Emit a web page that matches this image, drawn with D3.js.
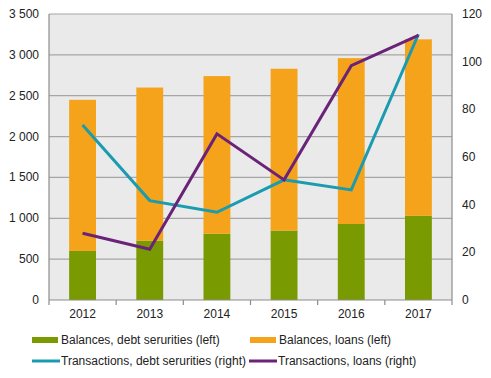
<!DOCTYPE html>
<html><head><meta charset="utf-8">
<script src="https://cdn.jsdelivr.net/npm/d3@7"></script>
<style>body{margin:0;background:#fff}svg{display:block;font-family:"Liberation Sans",Arial,sans-serif}</style>
</head><body><svg id="c" width="491" height="378"></svg>
<script>
const years = ["2012","2013","2014","2015","2016","2017"];
const balDebt = [600, 725, 810, 850, 930, 1030];
const balLoans = [1850, 1875, 1930, 1980, 2030, 2160]; // stacked on top of debt
const trDebt = [73.4, 41.7, 36.8, 50.4, 46.2, 111.5];
const trLoans = [28, 21.3, 69.7, 50.4, 98.3, 111];
const leftTicks = [0,500,1000,1500,2000,2500,3000,3500];
const rightTicks = [0,20,40,60,80,100,120];

const svg = d3.select("#c");
const L=49, R=452, T=14, B=300;
const x = d3.scaleBand().domain(years).range([L,R]).paddingInner(0.6).paddingOuter(0.3);
const xb = d3.scaleBand().domain(years).range([L,R]);
const yL = d3.scaleLinear().domain([0,3500]).range([B,T]);
const yR = d3.scaleLinear().domain([0,120]).range([B,T]);
const fmt = v => d3.format(",")(v).replace(/,/g," ");

svg.append("rect").attr("x",L).attr("y",T).attr("width",R-L).attr("height",B-T).attr("fill","#eaeaea");
svg.append("g").selectAll("line").data(leftTicks.slice(1)).join("line")
  .attr("x1",L).attr("x2",R).attr("y1",d=>yL(d)).attr("y2",d=>yL(d)).attr("stroke","#a6a6a6").attr("stroke-width",1.2);
svg.append("line").attr("x1",R).attr("x2",R).attr("y1",T).attr("y2",B).attr("stroke","#8c8c8c").attr("stroke-width",1.2);
svg.append("line").attr("x1",L).attr("x2",L).attr("y1",T).attr("y2",B).attr("stroke","#8c8c8c").attr("stroke-width",1.2);

// bars
svg.append("g").selectAll("rect").data(years).join("rect")
  .attr("x",d=>x(d)).attr("width",x.bandwidth())
  .attr("y",(d,i)=>yL(balDebt[i])).attr("height",(d,i)=>B-yL(balDebt[i])).attr("fill","#7a9a01");
svg.append("g").selectAll("rect").data(years).join("rect")
  .attr("x",d=>x(d)).attr("width",x.bandwidth())
  .attr("y",(d,i)=>yL(balDebt[i]+balLoans[i])).attr("height",(d,i)=>yL(balDebt[i])-yL(balDebt[i]+balLoans[i])).attr("fill","#f5a31a");

// lines
const cx = d => xb(d)+xb.bandwidth()/2;
const line = d3.line().x(d=>cx(d[0])).y(d=>yR(d[1]));
svg.append("path").datum(years.map((y,i)=>[y,trDebt[i]])).attr("d",line).attr("fill","none").attr("stroke","#1a9bb0").attr("stroke-width",3).attr("stroke-linejoin","miter");
svg.append("path").datum(years.map((y,i)=>[y,trLoans[i]])).attr("d",line).attr("fill","none").attr("stroke","#6b2378").attr("stroke-width",3).attr("stroke-linejoin","miter");

// x axis
svg.append("line").attr("x1",L).attr("x2",R).attr("y1",B).attr("y2",B).attr("stroke","#8c8c8c").attr("stroke-width",1.2);
svg.append("g").selectAll("line").data(years.map(y=>xb(y)).concat([R])).join("line")
  .attr("x1",d=>d).attr("x2",d=>d).attr("y1",B).attr("y2",B+5).attr("stroke","#8c8c8c").attr("stroke-width",1.2);
svg.append("g").selectAll("text").data(years).join("text")
  .attr("x",d=>cx(d)).attr("y",B+18).attr("text-anchor","middle").attr("font-size",12).attr("fill","#222").text(d=>d);

// y labels
svg.append("g").selectAll("text").data(leftTicks).join("text")
  .attr("x",39).attr("y",d=>yL(d)+4).attr("text-anchor","end").attr("font-size",12).attr("fill","#222").text(fmt);
svg.append("g").selectAll("text").data(rightTicks).join("text")
  .attr("x",462).attr("y",d=>yR(d)+4).attr("text-anchor","start").attr("font-size",12).attr("fill","#222").text(d=>d);

// legend
const leg = [
  {t:"Balances, debt serurities (left)", c:"#7a9a01", x:32, y:340, bar:true},
  {t:"Balances, loans (left)", c:"#f5a31a", x:250, y:340, bar:true},
  {t:"Transactions, debt serurities (right)", c:"#1a9bb0", x:32, y:361, bar:false},
  {t:"Transactions, loans (right)", c:"#6b2378", x:249, y:361, bar:false}
];
const lg = svg.append("g").selectAll("g").data(leg).join("g");
lg.append("rect").attr("x",d=>d.x).attr("y",d=>d.bar? d.y-3 : d.y-1.5).attr("width",d=>d.bar?26:28).attr("height",d=>d.bar?6:3).attr("fill",d=>d.c);
lg.append("text").attr("x",d=>d.x+(d.bar?29:29)).attr("y",d=>d.y+4).attr("font-size",12).attr("fill","#222").text(d=>d.t);
</script></body></html>
